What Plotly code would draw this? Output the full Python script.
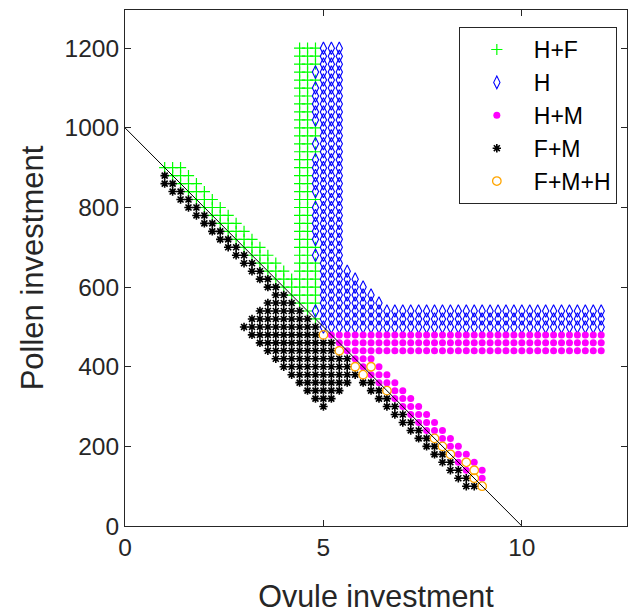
import plotly.graph_objects as go

# ---------------- data ----------------
# Each entry: (pollen investment, first ovule value, last ovule value) on a 0.2 ovule grid
STEP = 0.2

HF_ROWS = [  # H+F (green +)
    (1200, 4.4, 4.8), (1180, 4.4, 4.8), (1160, 4.4, 4.8), (1140, 4.4, 4.6),
    (1120, 4.4, 4.8), (1100, 4.4, 4.6), (1080, 4.4, 4.6), (1060, 4.4, 4.6),
    (1040, 4.4, 4.6), (1020, 4.4, 4.6), (1000, 4.4, 4.8), (980, 4.4, 4.8),
    (960, 4.4, 4.6), (940, 4.4, 4.8), (920, 4.4, 4.6), (900, 4.4, 4.6),
    (880, 4.4, 4.6), (860, 4.4, 4.6), (840, 4.4, 4.6), (820, 4.4, 4.8),
    (800, 4.4, 4.6), (780, 4.4, 4.6), (760, 4.4, 4.6), (740, 4.4, 4.6),
    (720, 4.4, 4.6), (700, 4.4, 4.8), (680, 4.4, 4.6), (660, 4.4, 4.8),
    (640, 4.4, 4.8),
    (900, 1.0, 1.4), (880, 1.2, 1.6), (860, 1.4, 1.8), (840, 1.6, 2.0),
    (820, 1.8, 2.2), (800, 2.0, 2.4), (780, 2.2, 2.6), (760, 2.4, 2.8),
    (740, 2.6, 3.0), (720, 2.8, 3.2), (700, 3.0, 3.4), (680, 3.2, 3.6),
    (660, 3.4, 3.8), (640, 3.6, 4.0),
    (620, 3.8, 4.8), (600, 4.0, 4.8), (580, 4.2, 4.8), (560, 4.4, 4.8),
    (540, 4.6, 4.6), (520, 4.8, 4.8),
]

H_ROWS = [  # H (blue diamonds)
    (1200, 5.0, 5.4), (1180, 5.0, 5.4), (1160, 5.0, 5.4), (1140, 4.8, 5.4),
    (1120, 5.0, 5.4), (1100, 4.8, 5.4), (1080, 4.8, 5.4), (1060, 4.8, 5.4),
    (1040, 4.8, 5.4), (1020, 4.8, 5.4), (1000, 5.0, 5.4), (980, 5.0, 5.4),
    (960, 4.8, 5.4), (940, 5.0, 5.4), (920, 4.8, 5.4), (900, 4.8, 5.4),
    (880, 4.8, 5.4), (860, 4.8, 5.4), (840, 4.8, 5.4), (820, 5.0, 5.4),
    (800, 4.8, 5.4), (780, 4.8, 5.4), (760, 4.8, 5.4), (740, 4.8, 5.4),
    (720, 4.8, 5.4), (700, 5.0, 5.4), (680, 4.8, 5.4), (660, 5.0, 5.4),
    (640, 5.0, 5.6), (620, 5.0, 5.8), (600, 5.0, 6.0), (580, 5.0, 6.2),
    (560, 5.0, 6.4), (540, 4.8, 12.0), (520, 5.0, 12.0), (500, 5.0, 12.0),
]

HM_ROWS = [  # H+M (magenta dots)
    (480, 5.2, 12.0), (460, 5.4, 12.0), (440, 5.6, 12.0),
    (420, 5.8, 6.2), (400, 6.0, 6.0), (400, 6.4, 6.4), (380, 6.2, 6.6),
    (360, 6.4, 6.8), (340, 6.8, 7.0), (320, 6.8, 7.2), (300, 7.0, 7.4),
    (280, 7.2, 7.6), (260, 7.4, 7.8), (240, 7.6, 8.0), (220, 8.0, 8.2),
    (200, 8.2, 8.4), (180, 8.4, 8.6), (160, 8.4, 8.4), (160, 8.8, 8.8),
    (140, 8.6, 8.6), (140, 9.0, 9.0), (120, 9.0, 9.0),
]

FM_ROWS = [  # F+M (black asterisks)
    (880, 1.0, 1.0), (860, 1.0, 1.2), (840, 1.2, 1.4), (820, 1.4, 1.6),
    (800, 1.6, 1.8), (780, 1.8, 2.0), (760, 2.0, 2.2), (740, 2.2, 2.4),
    (720, 2.4, 2.6), (700, 2.6, 2.8), (680, 2.8, 3.0), (660, 3.0, 3.2),
    (640, 3.2, 3.4), (620, 3.4, 3.6), (600, 3.6, 3.8), (580, 3.8, 4.0),
    (560, 3.6, 4.2), (540, 3.4, 4.4), (520, 3.2, 4.6), (500, 3.0, 4.8),
    (480, 3.2, 4.8), (460, 3.4, 5.2), (440, 3.6, 5.2), (420, 3.8, 5.6),
    (400, 4.0, 5.6), (380, 4.2, 5.8), (360, 4.4, 5.6), (360, 6.0, 6.2),
    (340, 4.6, 5.4), (340, 6.2, 6.4), (320, 4.8, 5.2), (320, 6.4, 6.6),
    (300, 5.0, 5.0), (300, 6.6, 6.8), (280, 6.8, 7.0), (260, 7.0, 7.2),
    (240, 7.2, 7.4), (220, 7.4, 7.6), (200, 7.6, 7.8), (180, 7.8, 8.0),
    (160, 8.0, 8.2), (140, 8.2, 8.4), (120, 8.4, 8.6), (100, 8.6, 8.8),
]

FMH_OVULE = [5.0, 5.4, 5.8, 6.2, 6.0, 6.6, 7.8, 8.0, 8.2, 8.6, 8.8, 8.8, 9.0]
FMH_POLLEN = [480, 440, 400, 400, 380, 340, 220, 200, 180, 160, 140, 120, 100]

LINE_OVULE = [0, 10]
LINE_POLLEN = [1000, 0]

X_TICKS = [0, 5, 10]
Y_TICKS = [0, 200, 400, 600, 800, 1000, 1200]


def expand(rows):
    xs, ys = [], []
    for p, a, b in rows:
        n = int(round((b - a) / STEP)) + 1
        for k in range(n):
            xs.append(round(a + STEP * k, 2))
            ys.append(p)
    return xs, ys


FONT = "Liberation Sans, Arial, Helvetica, sans-serif"
AX = "#262626"

fig = go.Figure()

x, y = expand(HF_ROWS)
fig.add_trace(go.Scatter(x=x, y=y, mode="markers", name="H+F",
                         marker=dict(symbol="cross-thin-open", size=8, color="#00ff00",
                                     line=dict(width=1.2, color="#00ff00"))))
x, y = expand(H_ROWS)
fig.add_trace(go.Scatter(x=x, y=y, mode="markers", name="H",
                         marker=dict(symbol="diamond-tall-open", size=9, color="#0000ff",
                                     line=dict(width=1.1, color="#0000ff"))))
x, y = expand(HM_ROWS)
fig.add_trace(go.Scatter(x=x, y=y, mode="markers", name="H+M",
                         marker=dict(symbol="circle", size=7, color="#ff00ff",
                                     line=dict(width=0))))
x, y = expand(FM_ROWS)
fig.add_trace(go.Scatter(x=x, y=y, mode="markers", name="F+M",
                         marker=dict(symbol="asterisk-open", size=7, color="black",
                                     line=dict(width=1.6, color="black"))))
fig.add_trace(go.Scatter(x=FMH_OVULE, y=FMH_POLLEN, mode="markers", name="F+M+H",
                         marker=dict(symbol="circle-open", size=8.5, color="#ffa500",
                                     line=dict(width=1.3, color="#ffa500"))))
fig.add_trace(go.Scatter(x=LINE_OVULE, y=LINE_POLLEN, mode="lines", showlegend=False,
                         line=dict(color="black", width=1), hoverinfo="skip"))

axis_common = dict(showgrid=False, zeroline=False, showline=True, linecolor=AX,
                   linewidth=1, mirror="ticks", ticks="inside", ticklen=6,
                   automargin=False,
                   tickcolor=AX, tickfont=dict(family=FONT, size=24.5, color=AX))

fig.update_layout(
    width=634, height=613,
    margin=dict(l=125, r=7, t=10, b=87),
    paper_bgcolor="white", plot_bgcolor="white",
    font=dict(family=FONT, color=AX),
    xaxis=dict(range=[0, 12.65], tickvals=X_TICKS,
               title=dict(text="Ovule investment", font=dict(family=FONT, size=30.5, color=AX),
                          standoff=30),
               **axis_common),
    yaxis=dict(range=[0, 1296], tickvals=Y_TICKS,
               title=dict(text="Pollen investment", font=dict(family=FONT, size=31, color=AX),
                          standoff=11),
               **axis_common),
    legend=dict(x=0.665, y=0.967, xanchor="left", yanchor="top",
                bordercolor=AX, borderwidth=1, bgcolor="white",
                font=dict(family=FONT, size=23, color="black"),
                itemwidth=64, tracegroupgap=0),
    showlegend=True,
)

fig.write_html("out.html")
